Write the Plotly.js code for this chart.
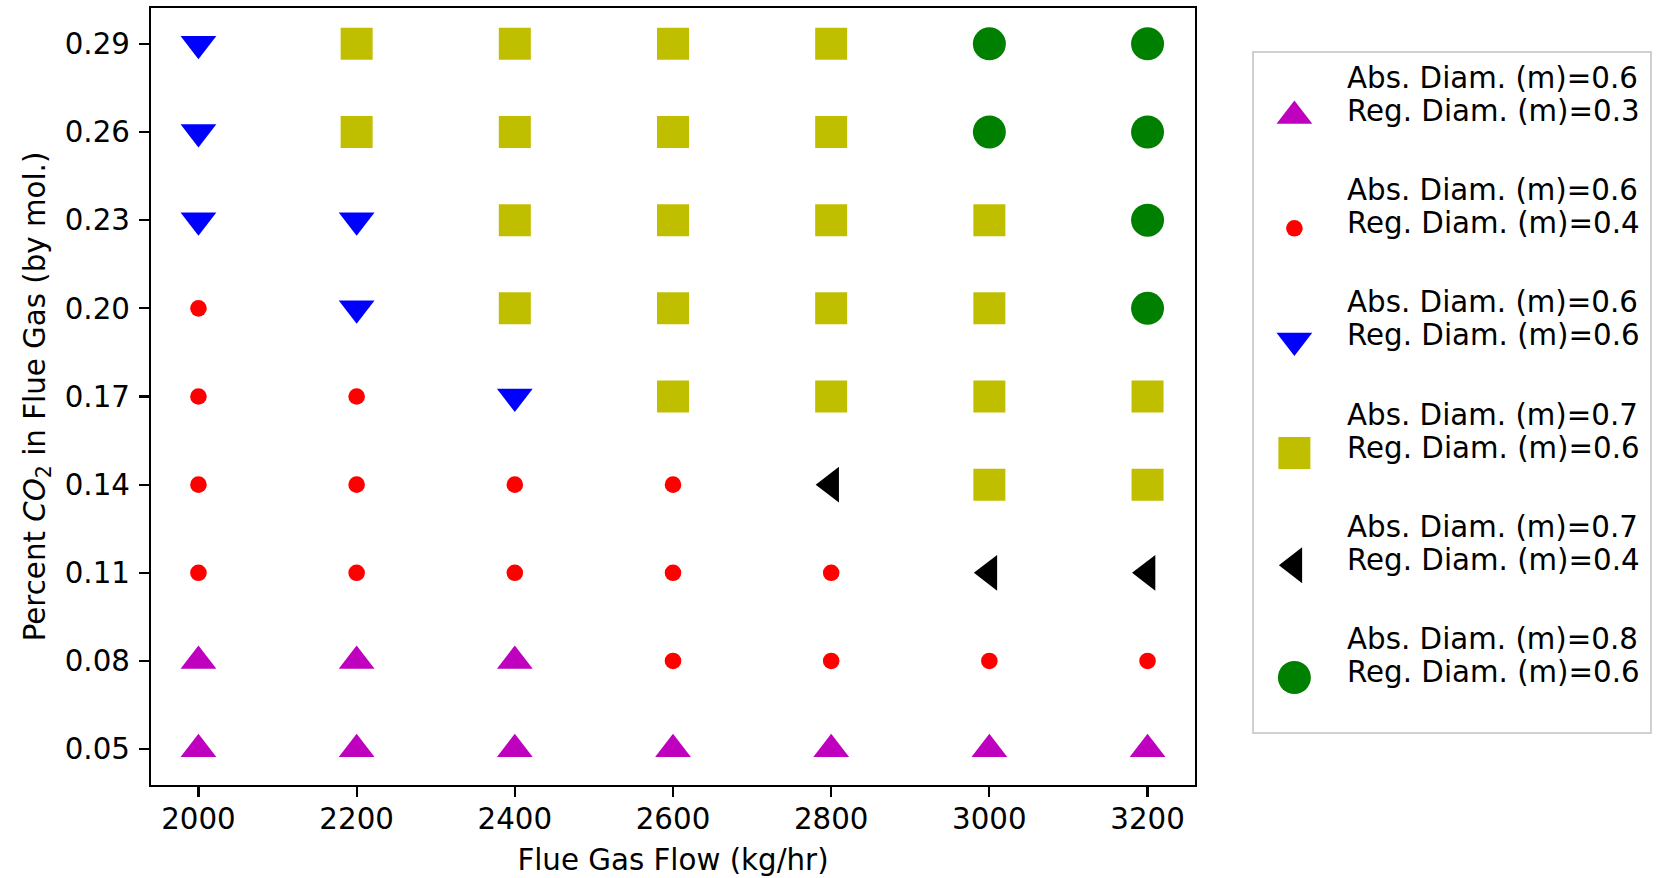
<!DOCTYPE html>
<html>
<head>
<meta charset="utf-8">
<script src="https://cdn.plot.ly/plotly-3.0.1.min.js"></script>
<style>html,body{margin:0;padding:0;background:#fff;}</style>
</head>
<body>
<div id="chart" style="width:1665px;height:878px;"></div>
<script>
// Axis values
const flowTicks = [2000, 2200, 2400, 2600, 2800, 3000, 3200];
const co2Ticks = [0.05, 0.08, 0.11, 0.14, 0.17, 0.20, 0.23, 0.26, 0.29];

// Series labels (two lines each)
const absLabels = ["Abs. Diam. (m)=0.6", "Abs. Diam. (m)=0.6", "Abs. Diam. (m)=0.6", "Abs. Diam. (m)=0.7", "Abs. Diam. (m)=0.7", "Abs. Diam. (m)=0.8"];
const regLabels = ["Reg. Diam. (m)=0.3", "Reg. Diam. (m)=0.4", "Reg. Diam. (m)=0.6", "Reg. Diam. (m)=0.6", "Reg. Diam. (m)=0.4", "Reg. Diam. (m)=0.6"];

// Series points (flow, CO2)
const s1Flow = [2000, 2200, 2400, 2600, 2800, 3000, 3200, 2000, 2200, 2400];
const s1CO2  = [0.05, 0.05, 0.05, 0.05, 0.05, 0.05, 0.05, 0.08, 0.08, 0.08];

const s2Flow = [2600, 2800, 3000, 3200, 2000, 2200, 2400, 2600, 2800, 2000, 2200, 2400, 2600, 2000, 2200, 2000];
const s2CO2  = [0.08, 0.08, 0.08, 0.08, 0.11, 0.11, 0.11, 0.11, 0.11, 0.14, 0.14, 0.14, 0.14, 0.17, 0.17, 0.20];

const s3Flow = [2400, 2200, 2000, 2200, 2000, 2000];
const s3CO2  = [0.17, 0.20, 0.23, 0.23, 0.26, 0.29];

const s4Flow = [3000, 3200, 2600, 2800, 3000, 3200, 2400, 2600, 2800, 3000, 2400, 2600, 2800, 3000, 2200, 2400, 2600, 2800, 2200, 2400, 2600, 2800];
const s4CO2  = [0.14, 0.14, 0.17, 0.17, 0.17, 0.17, 0.20, 0.20, 0.20, 0.20, 0.23, 0.23, 0.23, 0.23, 0.26, 0.26, 0.26, 0.26, 0.29, 0.29, 0.29, 0.29];

const s5Flow = [3000, 3200, 2800];
const s5CO2  = [0.11, 0.11, 0.14];

const s6Flow = [3200, 3200, 3000, 3200, 3000, 3200];
const s6CO2  = [0.20, 0.23, 0.26, 0.26, 0.29, 0.29];

const allFlow = [s1Flow, s2Flow, s3Flow, s4Flow, s5Flow, s6Flow];
const allCO2 = [s1CO2, s2CO2, s3CO2, s4CO2, s5CO2, s6CO2];

// Styles
const styles = [
  {symbol: "triangle-up",   color: "#bf00bf", size: 31},
  {symbol: "circle",        color: "#ff0000", size: 16.6},
  {symbol: "triangle-down", color: "#0000ff", size: 31},
  {symbol: "square",        color: "#bfbf00", size: 32},
  {symbol: "triangle-left", color: "#000000", size: 31},
  {symbol: "circle",        color: "#008000", size: 33}
];

const FONT = "DejaVu Sans, Verdana, sans-serif";
const FS = 29.3;

const traces = [];
for (let i = 0; i < 6; i++) {
  traces.push({
    type: "scatter", mode: "markers",
    x: allFlow[i], y: allCO2[i],
    name: absLabels[i] + "<br>" + regLabels[i],
    showlegend: false,
    marker: {symbol: styles[i].symbol, color: styles[i].color, size: styles[i].size, line: {width: 0}},
    xaxis: "x", yaxis: "y",
    hoverinfo: "x+y+name"
  });
}

// Custom legend drawn on an auxiliary axis pair (one row per series)
const legIdx = absLabels.map((_, i) => i);
for (let i = 0; i < 6; i++) {
  traces.push({
    type: "scatter", mode: "markers",
    x: [0.102], y: [legIdx[i]],
    showlegend: false, hoverinfo: "skip",
    marker: {symbol: styles[i].symbol, color: styles[i].color, size: styles[i].size, line: {width: 0}},
    xaxis: "x2", yaxis: "y2"
  });
}
traces.push({
  type: "scatter", mode: "text",
  x: legIdx.map(() => 0.235), y: legIdx.map(i => i - 0.318),
  text: absLabels,
  textposition: "middle right",
  textfont: {family: FONT, size: FS, color: "#000"},
  showlegend: false, hoverinfo: "skip",
  xaxis: "x2", yaxis: "y2"
});
traces.push({
  type: "scatter", mode: "text",
  x: legIdx.map(() => 0.235), y: legIdx.map(i => i - 0.023),
  text: regLabels,
  textposition: "middle right",
  textfont: {family: FONT, size: FS, color: "#000"},
  showlegend: false, hoverinfo: "skip",
  xaxis: "x2", yaxis: "y2"
});

const W = 1665, H = 878;
const mL = 151, mR = 10, mT = 8, mB = 93;
const pw = W - mL - mR;
const ph = H - mT - mB;
const plotRight = 1195, plotBottom = H - mB;
const legL = 1254, legR = 1650, legT = 53, legB = 732;

const layout = {
  width: W, height: H,
  margin: {l: mL, r: mR, t: mT, b: mB, pad: 0},
  paper_bgcolor: "#fff", plot_bgcolor: "#fff",
  font: {family: FONT, size: FS, color: "#000"},
  showlegend: false,
  xaxis: {
    domain: [0, (plotRight - mL) / pw],
    range: [1940, 3260],
    tickvals: flowTicks,
    ticktext: flowTicks.map(String),
    ticks: "outside", ticklen: 10, tickwidth: 2.2, tickcolor: "#000",
    ticklabelstandoff: -3,
    showline: true, mirror: true, linecolor: "#000", linewidth: 2.2,
    showgrid: false, zeroline: false,
    tickfont: {family: FONT, size: FS, color: "#000"},
    title: {text: "Flue Gas Flow (kg/hr)", font: {family: FONT, size: FS, color: "#000"}, standoff: 14}
  },
  yaxis: {
    domain: [0, 1],
    range: [0.0378, 0.3022],
    tickvals: co2Ticks,
    ticktext: co2Ticks.map(v => v.toFixed(2)),
    ticks: "outside", ticklen: 10, tickwidth: 2.2, tickcolor: "#000",
    ticklabelstandoff: 3,
    showline: true, mirror: true, linecolor: "#000", linewidth: 2.2,
    showgrid: false, zeroline: false,
    tickfont: {family: FONT, size: FS, color: "#000"},
    title: {text: "Percent <i>CO</i><sub>2</sub> in Flue Gas (by mol.)", font: {family: FONT, size: FS, color: "#000"}, standoff: 11}
  },
  xaxis2: {
    domain: [(legL - mL) / pw, (legR - mL) / pw],
    range: [0, 1], anchor: "y2",
    showline: true, mirror: true, linecolor: "#d0d0d0", linewidth: 2.2,
    showgrid: false, zeroline: false, showticklabels: false, ticks: "",
    fixedrange: true
  },
  yaxis2: {
    domain: [(plotBottom - legB) / ph, (plotBottom - legT) / ph],
    range: [5.485, -0.561], anchor: "x2",
    showline: true, mirror: true, linecolor: "#d0d0d0", linewidth: 2.2,
    showgrid: false, zeroline: false, showticklabels: false, ticks: "",
    fixedrange: true
  }
};

Plotly.newPlot("chart", traces, layout, {displayModeBar: false, staticPlot: true});
</script>
</body>
</html>
